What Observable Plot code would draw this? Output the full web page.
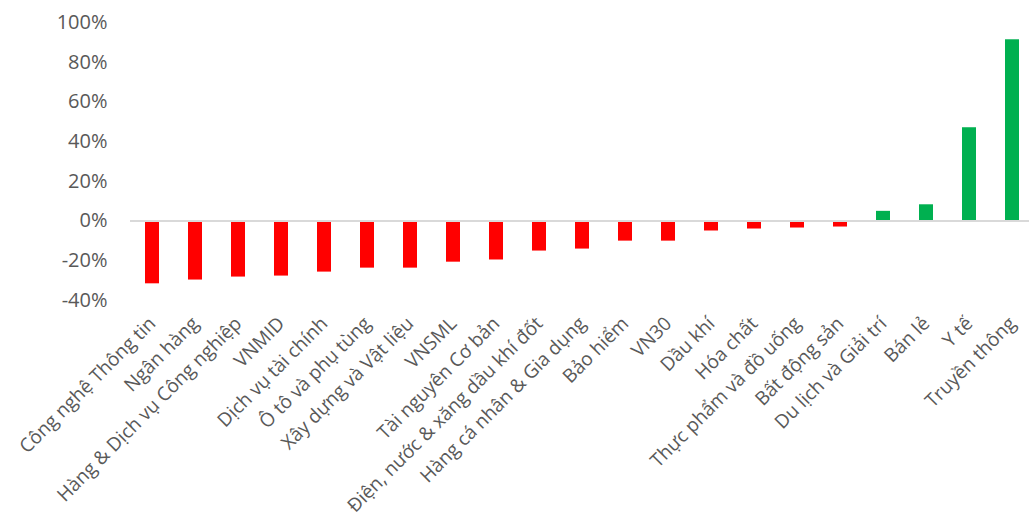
<!DOCTYPE html>
<html>
<head>
<meta charset="utf-8">
<script src="https://cdn.jsdelivr.net/npm/d3@7"></script>
<script src="https://cdn.jsdelivr.net/npm/@observablehq/plot@0.6"></script>
<style>
  html, body { margin: 0; padding: 0; background: #fff; }
  #chart svg { display: block; }
</style>
</head>
<body>
<div id="chart"></div>
<script>
// Sector index performance (%), sorted from worst to best
const categories = [
  "Công nghệ Thông tin", "Ngân hàng", "Hàng & Dịch vụ Công nghiệp", "VNMID",
  "Dịch vụ tài chính", "Ô tô và phụ tùng", "Xây dựng và Vật liệu", "VNSML",
  "Tài nguyên Cơ bản", "Điện, nước & xăng dầu khí đốt", "Hàng cá nhân & Gia dụng",
  "Bảo hiểm", "VN30", "Dầu khí", "Hóa chất", "Thực phẩm và đồ uống",
  "Bất động sản", "Du lịch và Giải trí", "Bán lẻ", "Y tế", "Truyền thông"
];
const values = [
  -31.6, -29.7, -28.2, -27.7, -25.7, -23.7, -23.7, -20.7, -19.6, -15.1, -14.1,
  -10.1, -10.1, -5.0, -4.0, -3.5, -3.0, 4.9, 8.2, 47.0, 91.3
];
const yTicks = [-40, -20, 0, 20, 40, 60, 80, 100];

const data = categories.map((name, i) => ({name, value: values[i]}));

const chart = Plot.plot({
  width: 1029,
  height: 520,
  marginTop: 22,
  marginBottom: 220,
  marginLeft: 130,
  marginRight: 0,
  style: {fontFamily: "'Open Sans', sans-serif", background: "#fff"},
  x: {
    domain: categories,
    range: [129.5, 1033.5],
    paddingInner: 0.675,
    paddingOuter: 0.3375,
    axis: null
  },
  y: {domain: [-40, 100], axis: null},
  marks: [
    Plot.barY(data, {
      x: "name",
      y: "value",
      fill: d => d.value < 0 ? "#FF0000" : "#00B050"
    }),
    Plot.ruleY([0], {stroke: "#d9d9d9", strokeWidth: 2}),
    Plot.axisY({
      ticks: yTicks,
      tickSize: 0,
      tickPadding: 23,
      tickFormat: d => `${d}%`,
      fontSize: 20,
      color: "#595959",
      label: null
    }),
    Plot.axisX({
      tickSize: 0,
      tickPadding: 20,
      tickRotate: -45,
      fontSize: 19,
      color: "#595959",
      label: null
    })
  ]
});

document.getElementById("chart").append(chart);
</script>
</body>
</html>
